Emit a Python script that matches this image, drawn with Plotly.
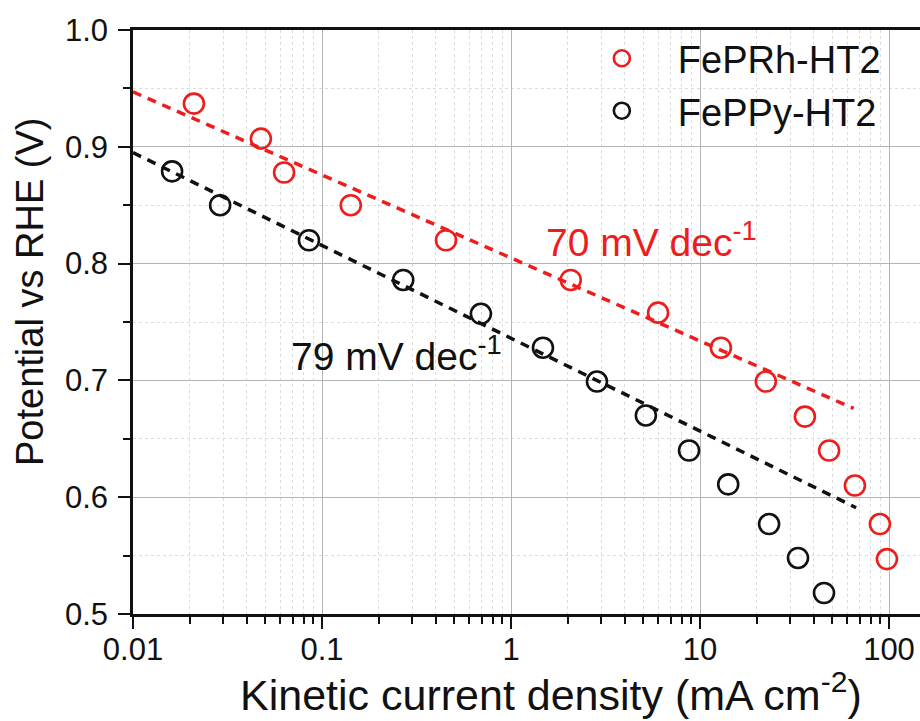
import plotly.graph_objects as go

# Tafel data: kinetic current density (mA cm^-2) vs potential (V vs RHE)
fe_prh_j = [0.021, 0.0475, 0.063, 0.142, 0.453, 2.07, 6.0, 12.9, 22.3, 35.9, 48.2, 66.0, 89.5, 97.5]
fe_prh_e = [0.937, 0.907, 0.878, 0.850, 0.820, 0.786, 0.758, 0.728, 0.699, 0.669, 0.640, 0.610, 0.577, 0.547]

fe_ppy_j = [0.0161, 0.0289, 0.0853, 0.269, 0.693, 1.476, 2.85, 5.17, 8.75, 14.1, 23.2, 33.0, 45.3]
fe_ppy_e = [0.879, 0.850, 0.820, 0.786, 0.757, 0.728, 0.699, 0.670, 0.640, 0.611, 0.577, 0.548, 0.518]

# Linear Tafel fits (end points)
fe_prh_fit_j = [0.01, 65.0]
fe_prh_fit_e = [0.947, 0.676]
fe_ppy_fit_j = [0.01, 67.0]
fe_ppy_fit_e = [0.895, 0.591]

x_ticks = [0.01, 0.1, 1, 10, 100]
x_tick_text = ["0.01", "0.1", "1", "10", "100"]
y_ticks = [0.5, 0.6, 0.7, 0.8, 0.9, 1.0]

RED = "#ee1c1c"
BLACK = "#111111"
FONT = "Liberation Sans, Arial, sans-serif"

fig = go.Figure()

fig.add_trace(go.Scatter(
    x=fe_prh_fit_j, y=fe_prh_fit_e, mode="lines", showlegend=False,
    line=dict(color=RED, width=3.5, dash="9px,7px"), hoverinfo="skip"))
fig.add_trace(go.Scatter(
    x=fe_ppy_fit_j, y=fe_ppy_fit_e, mode="lines", showlegend=False,
    line=dict(color=BLACK, width=3.5, dash="9px,7px"), hoverinfo="skip"))

fig.add_trace(go.Scatter(
    x=fe_prh_j, y=fe_prh_e, mode="markers", name="FePRh-HT2",
    marker=dict(symbol="circle-open", size=20, color=RED, line=dict(width=2.6, color=RED))))
fig.add_trace(go.Scatter(
    x=fe_ppy_j, y=fe_ppy_e, mode="markers", name="FePPy-HT2",
    marker=dict(symbol="circle-open", size=20, color=BLACK, line=dict(width=2.6, color=BLACK))))

fig.add_annotation(
    x=0.175, y=0.821, xref="x", yref="y", xanchor="left", yanchor="middle",
    text="70 mV dec<sup>-1</sup>", showarrow=False,
    font=dict(family=FONT, size=39, color=RED))
fig.add_annotation(
    x=-1.175, y=0.723, xref="x", yref="y", xanchor="left", yanchor="middle",
    text="79 mV dec<sup>-1</sup>", showarrow=False,
    font=dict(family=FONT, size=39, color=BLACK))

# Axis titles
fig.add_annotation(
    x=(551 - 133) / 787, y=-(692 - 614) / 584, xref="paper", yref="paper",
    xanchor="center", yanchor="middle",
    text="Kinetic current density (mA cm<sup>-2</sup>)", showarrow=False,
    font=dict(family=FONT, size=43, color=BLACK))
fig.add_annotation(
    x=(30 - 133) / 787, y=(614 - 292) / 584, xref="paper", yref="paper",
    xanchor="center", yanchor="middle", textangle=-90,
    text="Potential vs RHE (V)", showarrow=False,
    font=dict(family=FONT, size=38, color=BLACK))

fig.update_xaxes(
    type="log", range=[-2, 2.164],
    tickvals=x_ticks, ticktext=x_tick_text,
    ticks="outside", ticklen=12, tickwidth=2, tickcolor=BLACK,
    ticklabelstandoff=-6,
    showline=True, linewidth=2.5, linecolor=BLACK, mirror=True,
    showgrid=True, gridcolor="#b4b4b4", gridwidth=1.2,
    tickfont=dict(family=FONT, size=31, color=BLACK),
    minor=dict(dtick="D1", ticks="outside", ticklen=7, tickwidth=2, tickcolor=BLACK,
               showgrid=True, gridcolor="#dcdcdc", griddash="dot", gridwidth=1.2),
    zeroline=False)
fig.update_yaxes(
    range=[0.5, 1.0], tickvals=y_ticks, tickformat=".1f",
    ticks="outside", ticklen=12, tickwidth=2, tickcolor=BLACK,
    ticklabelstandoff=4,
    showline=True, linewidth=2.5, linecolor=BLACK, mirror=False,
    showgrid=True, gridcolor="#b4b4b4", gridwidth=1.2,
    tickfont=dict(family=FONT, size=31, color=BLACK),
    minor=dict(dtick=0.05, ticks="outside", ticklen=7, tickwidth=2, tickcolor=BLACK,
               showgrid=True, gridcolor="#dcdcdc", griddash="dot", gridwidth=1.2),
    zeroline=False)

fig.update_layout(
    width=920, height=721,
    margin=dict(l=133, r=0, t=30, b=107),
    paper_bgcolor="white", plot_bgcolor="white",
    font=dict(family=FONT, color=BLACK),
    legend=dict(x=0.55, y=1.005, xanchor="left", yanchor="top",
                bgcolor="rgba(0,0,0,0)", itemwidth=102,
                font=dict(family=FONT, size=38, color=BLACK),
                tracegroupgap=0),
    showlegend=True)

fig.write_html("out.html")
